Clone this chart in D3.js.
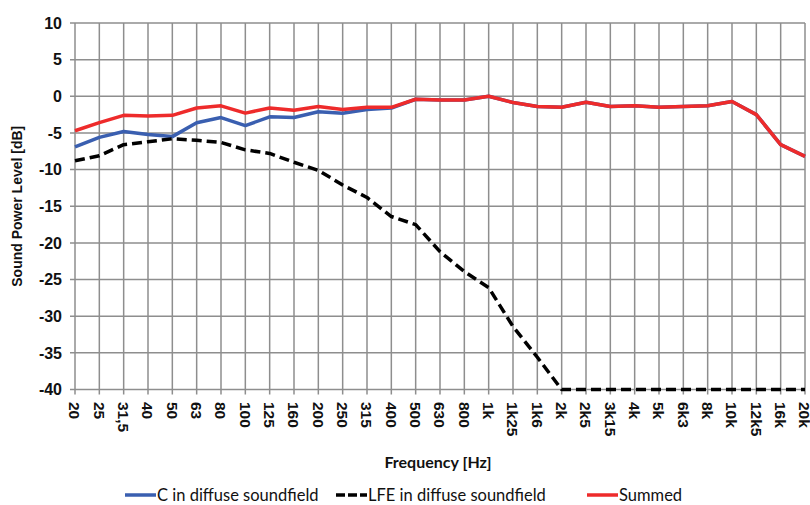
<!DOCTYPE html>
<html>
<head>
<meta charset="utf-8">
<script src="https://cdn.jsdelivr.net/npm/d3@7"></script>
<style>
	body { margin: 0; background: #fff; }
	svg { display: block; }
	.ytick { font-family: "Liberation Sans", Arial, sans-serif; font-weight: bold; font-size: 16px; fill: #111; }
	.xtick { font-family: "Liberation Sans", Arial, sans-serif; font-weight: bold; font-size: 15.5px; fill: #111; }
	.axis-title { font-family: "Liberation Sans", Arial, sans-serif; font-weight: bold; font-size: 14px; fill: #111; }
	.calibri { font-family: Lato, "Open Sans", sans-serif; fill: #111; }
</style>
</head>
<body>
<div id="chart"></div>
<script>
var freqs = ['20', '25', '31,5', '40', '50', '63', '80', '100', '125', '160', '200', '250', '315', '400',
	'500', '630', '800', '1k', '1k25', '1k6', '2k', '2k5', '3k15', '4k', '5k', '6k3', '8k', '10k',
	'12k5', '16k', '20k'];

var cDiffuse = [-6.9, -5.6, -4.8, -5.2, -5.5, -3.6, -2.9, -4.0, -2.8, -2.9, -2.1, -2.3, -1.8, -1.6,
	-0.4, -0.5, -0.5, 0, -0.85, -1.4, -1.5, -0.8, -1.4, -1.3, -1.5, -1.4, -1.3, -0.7, -2.5, -6.6, -8.2];

var lfeDiffuse = [-8.8, -8.1, -6.6, -6.2, -5.8, -6.0, -6.3, -7.3, -7.8, -9.0, -10.1, -12.1, -13.8,
	-16.4, -17.5, -21.2, -23.9, -26.1, -31.4, -35.6, -40, -40, -40, -40, -40, -40, -40, -40, -40, -40, -40];

var summed = [-4.7, -3.6, -2.6, -2.7, -2.6, -1.6, -1.3, -2.3, -1.6, -1.9, -1.4, -1.8, -1.5, -1.5,
	-0.4, -0.5, -0.5, 0, -0.85, -1.4, -1.5, -0.8, -1.4, -1.3, -1.5, -1.4, -1.3, -0.7, -2.5, -6.6, -8.2];

var yTicks = [10, 5, 0, -5, -10, -15, -20, -25, -30, -35, -40];

var series = [
	{ name: 'C in diffuse soundfield', values: cDiffuse, color: '#3a5fb0', dash: null },
	{ name: 'LFE in diffuse soundfield', values: lfeDiffuse, color: '#000', dash: '10,5' },
	{ name: 'Summed', values: summed, color: '#ee2b2b', dash: null }
];

var width = 810, height = 505;
var margin = { left: 75, right: 805, top: 23, bottom: 389.5 };

var svg = d3.select('#chart').append('svg')
	.attr('width', width)
	.attr('height', height);

var xScale = d3.scalePoint().domain(freqs).range([margin.left, margin.right]).padding(0);
var yScale = d3.scaleLinear().domain([-40, 10]).range([margin.bottom, margin.top]);

/* grid */
var grid = svg.append('g').attr('stroke', '#8e8e8e').attr('stroke-width', 1.5);
grid.selectAll('line.h').data(yTicks).enter().append('line')
	.attr('x1', margin.left - 5).attr('x2', margin.right)
	.attr('y1', function (d) { return yScale(d) }).attr('y2', function (d) { return yScale(d) });
grid.selectAll('line.v').data(freqs).enter().append('line')
	.attr('x1', function (d) { return xScale(d) }).attr('x2', function (d) { return xScale(d) })
	.attr('y1', margin.top).attr('y2', margin.bottom + 5);

/* y ticks */
svg.append('g').selectAll('text').data(yTicks).enter().append('text')
	.attr('class', 'ytick')
	.attr('x', 62)
	.attr('y', function (d) { return yScale(d) })
	.attr('dy', '0.36em')
	.attr('text-anchor', 'end')
	.text(function (d) { return d });

/* x ticks, rotated */
svg.append('g').selectAll('text').data(freqs).enter().append('text')
	.attr('class', 'xtick')
	.attr('transform', function (d) { return 'translate(' + xScale(d) + ',' + 402 + ') rotate(90)' })
	.attr('dy', '0.36em')
	.text(function (d) { return d });

/* axis titles */
svg.append('text')
	.attr('class', 'axis-title')
	.attr('transform', 'translate(22,' + (margin.top + margin.bottom) / 2 + ') rotate(-90)')
	.attr('text-anchor', 'middle')
	.text('Sound Power Level [dB]');

svg.append('text')
	.attr('class', 'calibri')
	.attr('x', 438).attr('y', 468)
	.attr('text-anchor', 'middle')
	.attr('font-weight', 'bold')
	.attr('font-size', 16)
	.text('Frequency [Hz]');

/* lines */
var line = d3.line()
	.x(function (d, i) { return xScale(freqs[i]) })
	.y(function (d) { return yScale(d) });

svg.append('g').selectAll('path').data(series).enter().append('path')
	.attr('d', function (s) { return line(s.values) })
	.attr('fill', 'none')
	.attr('stroke', function (s) { return s.color })
	.attr('stroke-width', 3.5)
	.attr('stroke-linejoin', 'round')
	.attr('stroke-dasharray', function (s) { return s.dash });

/* legend */
var legendX = [125, 336, 587];
var leg = svg.append('g').selectAll('g').data(series).enter().append('g')
	.attr('transform', function (s, i) { return 'translate(' + legendX[i] + ',495)' });
leg.append('line')
	.attr('x1', 0).attr('x2', 31)
	.attr('stroke', function (s) { return s.color })
	.attr('stroke-width', 3.5)
	.attr('stroke-dasharray', function (s) { return s.dash ? '9,3' : null });
leg.append('text')
	.attr('class', 'calibri')
	.attr('x', 32)
	.attr('dy', '0.35em')
	.attr('font-size', 16.5)
	.text(function (s) { return s.name });
</script>
</body>
</html>
